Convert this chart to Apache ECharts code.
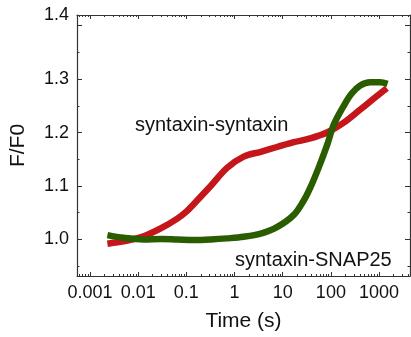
<!DOCTYPE html>
<html>
<head>
<meta charset="utf-8">
<script src="https://cdn.jsdelivr.net/npm/echarts@6/dist/echarts.min.js"></script>
<style>
html,body{margin:0;padding:0;background:#fff;}
#chart{width:411px;height:337px;}
</style>
</head>
<body>
<div id="chart"></div>
<script>
// Time (s) sample points
var timeRed = [0.0023, 0.006, 0.013, 0.03, 0.065, 0.1, 0.145, 0.32, 0.7, 1.55, 3.5, 7.6, 17, 37, 83, 182, 407, 890, 1450];
var valuesRed = [0.992, 0.998, 1.006, 1.021, 1.039, 1.052, 1.067, 1.100, 1.134, 1.155, 1.164, 1.173, 1.182, 1.189, 1.200, 1.218, 1.243, 1.268, 1.283];

var timeGreen = [0.0023, 0.005, 0.013, 0.03, 0.065, 0.145, 0.32, 0.7, 1.55, 3.5, 7.6, 17, 27, 37, 55, 83, 115, 182, 270, 407, 650, 1050, 1500];
var valuesGreen = [1.008, 1.003, 1.000, 1.001, 1.000, 0.999, 1.000, 1.002, 1.005, 1.011, 1.023, 1.046, 1.072, 1.096, 1.133, 1.176, 1.215, 1.249, 1.273, 1.288, 1.294, 1.294, 1.291];

var xTickLabels = [0.001, 0.01, 0.1, 1, 10, 100, 1000];
var yTickValues = [1.0, 1.1, 1.2, 1.3, 1.4];
var yLabelValues = [1.0, 1.1, 1.2, 1.3, 1.42];
var yMinorValues = [0.95, 1.05, 1.15, 1.25, 1.35];

var seriesNames = ['syntaxin-syntaxin', 'syntaxin-SNAP25'];

var xMin = 0.000538, xMax = 4385;
var yMin = 0.9316, yMax = 1.42;

var xMinor = [];
for (var d = -4; d <= 3; d++) {
  for (var k = 2; k <= 9; k++) {
    var v = k * Math.pow(10, d);
    if (v > xMin && v < xMax) xMinor.push(v);
  }
}

var FONT = 'Liberation Sans, Arial, sans-serif';
var AX = '#333';

function pairs(t, v) { return t.map(function (x, i) { return [x, v[i]]; }); }

function xAxisDef(pos, custom, len, withLabels, withLine) {
  return {
    type: 'log', position: pos, min: xMin, max: xMax, logBase: 10,
    axisLine: { show: withLine, lineStyle: { color: AX, width: 1.2 } },
    axisTick: { show: true, inside: true, length: len, customValues: custom, lineStyle: { color: AX, width: 1 } },
    axisLabel: withLabels ? {
      show: true, customValues: xTickLabels, margin: 8, fontSize: 18, color: '#111', fontFamily: FONT,
      formatter: function (v) { return String(+(+v).toPrecision(6)); }
    } : { show: false },
    splitLine: { show: false }
  };
}
function yAxisDef(pos, custom, len, withLabels, withLine) {
  return {
    type: 'value', position: pos, min: yMin, max: yMax,
    axisLine: { show: withLine, onZero: false, lineStyle: { color: AX, width: 1.2 } },
    axisTick: { show: true, inside: true, length: len, customValues: custom, lineStyle: { color: AX, width: 1 } },
    axisLabel: withLabels ? {
      show: true, customValues: yLabelValues, margin: 8, fontSize: 18, color: '#111', fontFamily: FONT,
      formatter: function (v) { return v > 1.41 ? '1.4' : (+v).toFixed(1); }
    } : { show: false },
    splitLine: { show: false }
  };
}

var xa0 = xAxisDef('bottom', xTickLabels, 4, true, true);
xa0.name = 'Time (s)';
xa0.nameLocation = 'middle';
xa0.nameGap = 35;
xa0.nameTextStyle = { fontSize: 21, color: '#111', fontFamily: FONT };

var ya0 = yAxisDef('left', yTickValues, 5, true, true);
ya0.name = 'F/F0';
ya0.nameLocation = 'middle';
ya0.nameGap = 48;
ya0.nameTextStyle = { fontSize: 21, color: '#111', fontFamily: FONT };

var chart = echarts.init(document.getElementById('chart'), null, { renderer: 'canvas' });
chart.setOption({
  animation: false,
  backgroundColor: '#fff',
  grid: { left: 76, right: 1, top: 15, bottom: 53, containLabel: false },
  xAxis: [
    xa0,
    xAxisDef('bottom', xMinor, 2, false, false),
    xAxisDef('top', xTickLabels, 4, false, true),
    xAxisDef('top', xMinor, 2, false, false)
  ],
  yAxis: [
    ya0,
    yAxisDef('left', yMinorValues, 2.5, false, false),
    yAxisDef('right', yTickValues, 5, false, true),
    yAxisDef('right', yMinorValues, 2.5, false, false)
  ],
  series: [
    {
      name: seriesNames[0], type: 'line', xAxisIndex: 0, yAxisIndex: 0,
      data: pairs(timeRed, valuesRed), showSymbol: false, symbol: 'none', smooth: 0.35,
      lineStyle: { color: '#c4161b', width: 6.5 }, z: 2
    },
    {
      name: seriesNames[1], type: 'line', xAxisIndex: 0, yAxisIndex: 0,
      data: pairs(timeGreen, valuesGreen), showSymbol: false, symbol: 'none', smooth: 0.35,
      lineStyle: { color: '#2a5d00', width: 6.5 }, z: 3
    }
  ],
  graphic: [
    { type: 'text', left: 135, top: 115, style: { text: seriesNames[0], fill: '#111', font: '20px ' + FONT } },
    { type: 'text', left: 235, top: 250, style: { text: seriesNames[1], fill: '#111', font: '20px ' + FONT } }
  ]
});
</script>
</body>
</html>
